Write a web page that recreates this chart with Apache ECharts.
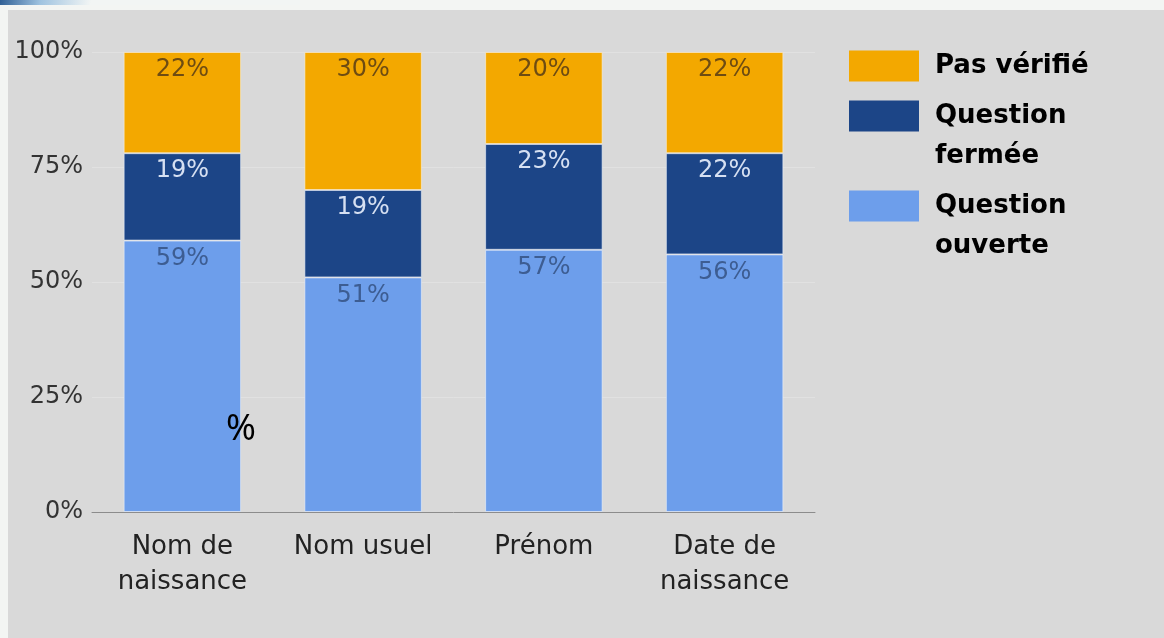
<!DOCTYPE html>
<html>
<head>
<meta charset="utf-8">
<script src="https://cdn.jsdelivr.net/npm/echarts@6/dist/echarts.min.js"></script>
<style>
  html, body { margin: 0; padding: 0; }
  body {
    width: 1164px; height: 638px; overflow: hidden;
    background: linear-gradient(100deg, #2f5f95 0px, #9fc3e0 40px, #f2f5f4 90px) no-repeat 0 0 / 300px 5px, #f3f5f3;
  }
  #chart { position: absolute; left: 8px; top: 10px; width: 1156px; height: 628px; background: #d9d9d9; }
</style>
</head>
<body>
<div id="chart"></div>
<script>
// categories and shares, in %
var categories = ['Nom de\nnaissance', 'Nom usuel', 'Prénom', 'Date de\nnaissance'];
var ouverte = [59, 51, 57, 56];
var fermee = [19, 19, 23, 22];
var pasVerifie = [22, 30, 20, 22];
var yTicks = [0, 25, 50, 75, 100];

var font = '"DejaVu Sans", sans-serif';

var chart = echarts.init(document.getElementById('chart'));

function barLabel(color) {
  return {
    show: true,
    position: 'insideTop',
    distance: 6,
    formatter: '{c}%',
    color: color,
    fontFamily: font,
    fontSize: 24
  };
}

var legendText = {
  color: '#000',
  fontFamily: font,
  fontWeight: 'bold',
  fontSize: 26,
  lineHeight: 40,
  padding: [0, 0, 0, 11]
};

// square sits at the top of a taller box, so it lines up with the first text line
var topSquare = 'path://M0,0L70,0L70,31L0,31Z M0,71L0.5,71L0,71Z';

var option = {
  animation: false,
  grid: { left: 84, top: 42, right: 349, bottom: 126 },
  legend: [
    {
      orient: 'vertical',
      left: 841,
      top: 36,
      padding: 0,
      itemWidth: 70,
      itemHeight: 31,
      icon: 'rect',
      selectedMode: false,
      itemStyle: { borderWidth: 0 },
      textStyle: legendText,
      data: ['Pas vérifié']
    },
    {
      orient: 'vertical',
      left: 841,
      top: 86,
      padding: 0,
      itemGap: 10,
      itemWidth: 70,
      itemHeight: 71,
      icon: topSquare,
      selectedMode: false,
      itemStyle: { borderWidth: 0 },
      textStyle: legendText,
      formatter: function (name) { return name.replace(' ', '\n'); },
      data: ['Question fermée', 'Question ouverte']
    }
  ],
  xAxis: {
    type: 'category',
    data: categories,
    axisLine: { lineStyle: { color: '#8c8c8c', width: 1 } },
    axisTick: { show: false },
    axisLabel: { color: '#222', fontFamily: font, fontSize: 26, lineHeight: 35, margin: 18 }
  },
  yAxis: {
    type: 'value',
    min: yTicks[0],
    max: yTicks[yTicks.length - 1],
    interval: 25,
    axisLine: { show: false },
    axisTick: { show: false },
    splitLine: { lineStyle: { color: '#e1e1e1', width: 1 } },
    axisLabel: { color: '#333', fontFamily: font, fontSize: 24, margin: 9, formatter: '{value}%' }
  },
  series: [
    {
      name: 'Question ouverte', type: 'bar', stack: 'total', barWidth: '65%',
      data: ouverte,
      itemStyle: { color: '#6d9eeb', borderColor: 'rgba(235,240,250,0.6)', borderWidth: 1 },
      label: barLabel('#3d5d92')
    },
    {
      name: 'Question fermée', type: 'bar', stack: 'total',
      data: fermee,
      itemStyle: { color: '#1c4587', borderColor: 'rgba(235,240,250,0.6)', borderWidth: 1 },
      label: barLabel('#d6e0f2')
    },
    {
      name: 'Pas vérifié', type: 'bar', stack: 'total',
      data: pasVerifie,
      itemStyle: { color: '#f3a800', borderColor: 'rgba(250,240,220,0.6)', borderWidth: 1 },
      label: barLabel('#6e4c12')
    }
  ],
  graphic: [
    {
      type: 'text', left: 218, top: 402, z: 100,
      style: { text: '%', fill: '#000', font: '36px "Noto Sans", sans-serif' }
    }
  ]
};

chart.setOption(option);
</script>
</body>
</html>
